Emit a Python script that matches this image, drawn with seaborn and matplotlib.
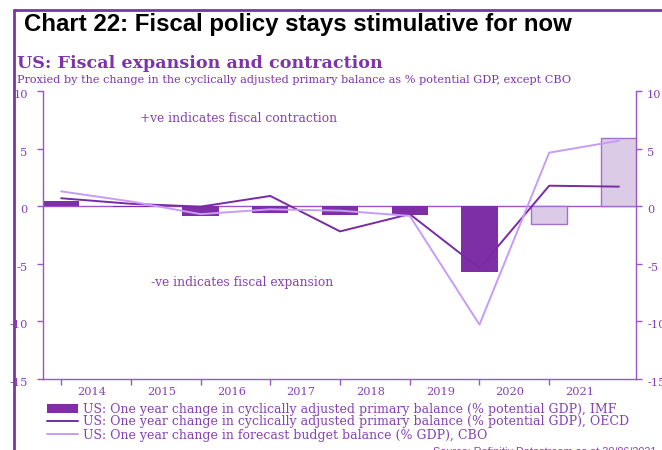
import numpy as np
import pandas as pd
import matplotlib
matplotlib.use("Agg")
import matplotlib.pyplot as plt
import matplotlib.transforms as mtransforms
import seaborn as sns

# ---- data -------------------------------------------------------------
years = ["2014", "2015", "2016", "2017", "2018", "2019", "2020", "2021", "2022"]
year_labels = ["2014", "2015", "2016", "2017", "2018", "2019", "2020", "2021"]
imf = [0.45, -0.1, -0.9, -0.6, -0.8, -0.75, -5.75, -1.55, 5.9]
oecd = [0.68, 0.2, -0.05, 0.88, -2.2, -0.7, -5.4, 1.77, 1.69]
cbo = [1.28, 0.4, -0.7, -0.28, -0.4, -0.85, -10.3, 4.64, 5.68]
is_forecast = [False, False, False, False, False, False, False, True, True]
y_ticks = [-15, -10, -5, 0, 5, 10]

series_labels = [
    "US: One year change in cyclically adjusted primary balance (% potential GDP), IMF",
    "US: One year change in cyclically adjusted primary balance (% potential GDP), OECD",
    "US: One year change in forecast budget balance (% GDP), CBO",
]

# ---- colours ----------------------------------------------------------
DARK = "#7f2fa5"
LIGHT_FILL = "#dccbe7"
LIGHT_EDGE = "#a36fc8"
OECD_C = "#7a2aa3"
CBO_C = "#c69cf6"
AXIS_C = "#9a55c9"
TEXT_C = "#8641b3"
HEAD_C = "#7d33aa"
FRAME_C = "#7a35a8"

sns.set_style("white")
plt.rcParams["font.family"] = ["DejaVu Serif"]
plt.rcParams["axes.unicode_minus"] = False

df = pd.DataFrame({
    "year": years,
    "pos": np.arange(len(years)),
    "imf": imf,
    "oecd": oecd,
    "cbo": cbo,
    "kind": np.where(is_forecast, "forecast", "actual"),
})

fig = plt.figure(figsize=(6.62, 4.50), dpi=100)
W, H = 662.0, 450.0
ax = fig.add_axes([43 / W, 1 - 378.7 / H, (636 - 43) / W, (378.7 - 91) / H])

# bars
sns.barplot(data=df, x="year", y="imf", hue="kind",
            palette={"actual": DARK, "forecast": LIGHT_FILL},
            width=0.52, dodge=False, legend=False, errorbar=None,
            saturation=1, ax=ax, zorder=2)
bar_handle = None
for p in ax.patches:
    fc = matplotlib.colors.to_hex(p.get_facecolor())
    if fc.lower() == LIGHT_FILL:
        p.set_edgecolor(LIGHT_EDGE)
        p.set_linewidth(1.0)
    else:
        p.set_edgecolor(DARK)
        p.set_linewidth(0.0)
        if bar_handle is None:
            bar_handle = p

ax.axhline(0, color=AXIS_C, lw=1.0, zorder=1.5)

# lines
sns.lineplot(data=df, x="pos", y="oecd", color=OECD_C, lw=1.4,
             sort=False, ax=ax, zorder=4)
oecd_line = ax.lines[-1]
sns.lineplot(data=df, x="pos", y="cbo", color=CBO_C, lw=1.4,
             sort=False, ax=ax, zorder=5)
cbo_line = ax.lines[-1]

# axes limits and ticks
ax.set_xlim(-0.26, 8.245)
ax.set_ylim(-15, 10)
ax.set_xlabel("")
ax.set_ylabel("")

ax.set_xticks(np.arange(len(year_labels)))
ax.set_xticklabels([""] * len(year_labels))
ax.set_xticks(np.arange(len(year_labels)) + 0.44, minor=True)
ax.set_xticklabels(year_labels, minor=True)
ax.tick_params(axis="x", which="major", direction="out", length=4, width=1,
               color=AXIS_C, bottom=True)
ax.tick_params(axis="x", which="minor", length=0, pad=6, labelsize=8.2,
               labelcolor=TEXT_C)

ax.set_yticks(y_ticks)
ax.set_yticklabels([str(v) for v in y_ticks])
ax.tick_params(axis="y", direction="out", length=4, width=1, color=AXIS_C,
               left=True, pad=7, labelsize=8.2, labelcolor=TEXT_C)

for side in ["top", "right"]:
    ax.spines[side].set_visible(False)
for side in ["left", "bottom"]:
    ax.spines[side].set_color(AXIS_C)
    ax.spines[side].set_linewidth(1.0)

ax2 = ax.twinx()
ax2.set_ylim(ax.get_ylim())
ax2.set_yticks(y_ticks)
ax2.set_yticklabels([str(v) for v in y_ticks])
ax2.tick_params(axis="y", direction="out", length=4, width=1, color=AXIS_C,
                right=True, pad=4, labelsize=8.2, labelcolor=TEXT_C)
for side in ["top", "left", "bottom"]:
    ax2.spines[side].set_visible(False)
ax2.spines["right"].set_color(AXIS_C)
ax2.spines["right"].set_linewidth(1.0)

shift = mtransforms.ScaledTranslation(0, -3 / 100, fig.dpi_scale_trans)
for lab in ax.get_yticklabels() + ax2.get_yticklabels():
    lab.set_transform(lab.get_transform() + shift)

# annotations
ax.text(2.55, 7.65, "+ve indicates fiscal contraction", ha="center",
        va="center", fontsize=8.8, color=TEXT_C)
ax.text(2.6, -6.6, "-ve indicates fiscal expansion", ha="center",
        va="center", fontsize=8.8, color=TEXT_C)

# legend
ax.legend(handles=[bar_handle, oecd_line, cbo_line], labels=series_labels,
          loc="upper left", bbox_to_anchor=(47 / W, 1 - 402.5 / H),
          bbox_transform=fig.transFigure, frameon=False, fontsize=9,
          labelcolor=TEXT_C, handlelength=2.5, handletextpad=0.4,
          labelspacing=0.0, borderpad=0, borderaxespad=0)

# headings
fig.text(24 / W, 1 - 31 / H, "Chart 22: Fiscal policy stays stimulative for now",
         family=["Liberation Sans", "DejaVu Sans"], fontweight="bold",
         fontsize=17.3, color="black", va="baseline", ha="left")
fig.text(17 / W, 1 - 67.5 / H, "US: Fiscal expansion and contraction",
         fontweight="bold", fontsize=12.6, color=HEAD_C, va="baseline", ha="left")
fig.text(17 / W, 1 - 83.3 / H,
         "Proxied by the change in the cyclically adjusted primary balance as % potential GDP, except CBO",
         fontsize=8.15, color=HEAD_C, va="baseline", ha="left")
fig.text(433 / W, 1 - 447 / H, "Source: Refinitiv Datastream as at 30/06/2021",
         family=["Liberation Sans", "DejaVu Sans"], fontsize=7.8,
         color=TEXT_C, va="top", ha="left")

# page frame
fig.add_artist(matplotlib.lines.Line2D([13.5 / W, 13.5 / W], [0, 1 - 10 / H],
                                       transform=fig.transFigure,
                                       color=FRAME_C, lw=2))
fig.add_artist(matplotlib.lines.Line2D([13.5 / W, 1], [1 - 10 / H, 1 - 10 / H],
                                       transform=fig.transFigure,
                                       color=FRAME_C, lw=2))

fig.savefig("out.png", dpi=100)
